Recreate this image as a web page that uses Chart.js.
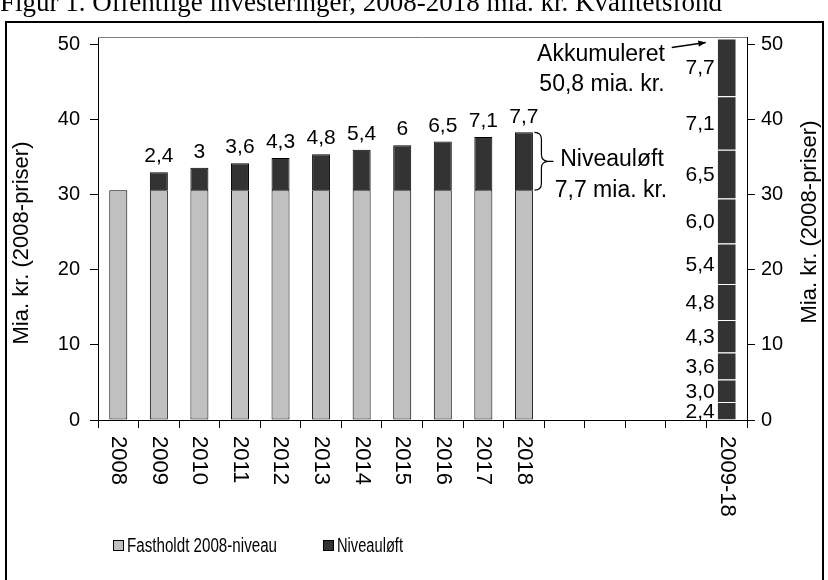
<!DOCTYPE html>
<html><head><meta charset="utf-8">
<script src="https://cdn.jsdelivr.net/npm/chart.js@4/dist/chart.umd.min.js"></script>
<style>html,body{margin:0;padding:0;background:#fff;}canvas{display:block}</style>
</head><body>
<canvas id="c" width="828" height="580"></canvas>
<script>
// ---- data ----
const categories = ['2008','2009','2010','2011','2012','2013','2014','2015','2016','2017','2018','','','','','2009-18'];
const baseLevel = [30.6,30.6,30.6,30.6,30.6,30.6,30.6,30.6,30.6,30.6,30.6,null,null,null,null,null];
const levelIncrease = [null,2.4,3.0,3.6,4.3,4.8,5.4,6.0,6.5,7.1,7.7,null,null,null,null,null];
const increaseLabels = ['','2,4','3','3,6','4,3','4,8','5,4','6','6,5','7,1','7,7'];
const cumulativeParts = [2.4,3.0,3.6,4.3,4.8,5.4,6.0,6.5,7.1,7.7];
const cumulativeLabels = ['2,4','3,0','3,6','4,3','4,8','5,4','6,0','6,5','7,1','7,7'];
const yTicks = [0,10,20,30,40,50];
const seriesNames = ['Fastholdt 2008-niveau','Niveauløft'];
const titleText = 'Figur 1. Offentlige investeringer, 2008-2018 mia. kr. Kvalitetsfond';
const axisTitle = 'Mia. kr. (2008-priser)';
const annotTotal = ['Akkumuleret','50,8 mia. kr.'];
const annotLevel = ['Niveauløft','7,7 mia. kr.'];

const LIGHT = '#C0C0C0', DARK = '#333333';
const FONT = '"Liberation Sans", Arial, sans-serif';
const cumIndex = categories.length - 1;

const datasets = [
  {label: seriesNames[0], data: baseLevel, backgroundColor: LIGHT, borderColor: '#000', borderWidth: 1, borderSkipped: false},
  {label: seriesNames[1], data: levelIncrease, backgroundColor: DARK, borderColor: '#000', borderWidth: 1, borderSkipped: false}
];
cumulativeParts.forEach((v, i) => {
  const d = categories.map((c, j) => j === cumIndex ? v : null);
  datasets.push({label: 'cum' + i, data: d, backgroundColor: DARK, borderColor: '#fff',
    borderWidth: {top: 1, bottom: 0, left: 0, right: 0}, borderSkipped: false});
});

const fixTicks = s => { s.ticks = yTicks.map(v => ({value: v})); };

const decor = {
  id: 'decor',
  beforeDraw(chart) {
    const ctx = chart.ctx;
    ctx.save();
    ctx.fillStyle = '#fff';
    ctx.fillRect(0, 0, chart.width, chart.height);
    ctx.restore();
  },
  afterDraw(chart) {
    const ctx = chart.ctx, ca = chart.chartArea;
    const xs = chart.scales.x;
    ctx.save();
    // title (cut at top)
    ctx.fillStyle = '#000';
    ctx.font = '27px "Liberation Serif", "Times New Roman", serif';
    ctx.textAlign = 'left'; ctx.textBaseline = 'alphabetic';
    ctx.fillText(titleText, 0, 11);
    // outer frame
    ctx.strokeStyle = '#000'; ctx.lineWidth = 2;
    ctx.strokeRect(6, 22, 817, 600);
    // plot area top border
    ctx.strokeStyle = '#808080'; ctx.lineWidth = 1;
    ctx.beginPath(); ctx.moveTo(ca.left, ca.top + 0.5); ctx.lineTo(ca.right, ca.top + 0.5); ctx.stroke();

    // axis titles
    ctx.fillStyle = '#000';
    ctx.font = '22px ' + FONT;
    ctx.textAlign = 'center'; ctx.textBaseline = 'middle';
    ctx.save(); ctx.translate(22, 243); ctx.rotate(-Math.PI / 2); ctx.fillText(axisTitle, 0, 0); ctx.restore();
    ctx.save(); ctx.translate(810, 222); ctx.rotate(-Math.PI / 2); ctx.fillText(axisTitle, 0, 0); ctx.restore();

    // x labels rotated clockwise
    ctx.font = '22px ' + FONT;
    ctx.textAlign = 'left'; ctx.textBaseline = 'middle';
    categories.forEach((c, i) => {
      if (!c) return;
      const x = xs.getPixelForValue(i);
      ctx.save(); ctx.translate(x, ca.bottom + 16); ctx.rotate(Math.PI / 2); ctx.fillText(c, 0, 0); ctx.restore();
    });

    // value labels above yearly bars
    const meta1 = chart.getDatasetMeta(1);
    ctx.font = '21px ' + FONT;
    ctx.textAlign = 'center'; ctx.textBaseline = 'bottom';
    increaseLabels.forEach((t, i) => {
      if (!t) return;
      const el = meta1.data[i];
      ctx.fillText(t, el.x, el.y - 5);
    });

    // cumulative segment labels
    ctx.textAlign = 'right'; ctx.textBaseline = 'middle';
    let barLeft = 0, topY = 0;
    cumulativeParts.forEach((v, i) => {
      const el = chart.getDatasetMeta(2 + i).data[cumIndex];
      barLeft = el.x - el.width / 2;
      topY = el.y;
      ctx.fillText(cumulativeLabels[i], barLeft - 3, (el.y + el.base) / 2 + 1);
    });

    // annotation: accumulated total with arrow
    const tipX = barLeft - 12, tipY = topY + 4;
    const sx = tipX - 34, sy = tipY + 5;
    ctx.strokeStyle = '#000'; ctx.lineWidth = 1.5;
    ctx.beginPath(); ctx.moveTo(sx, sy); ctx.lineTo(tipX, tipY); ctx.stroke();
    const ang = Math.atan2(tipY - sy, tipX - sx);
    ctx.beginPath();
    ctx.moveTo(tipX, tipY);
    ctx.lineTo(tipX - 8 * Math.cos(ang - 0.4), tipY - 8 * Math.sin(ang - 0.4));
    ctx.lineTo(tipX - 8 * Math.cos(ang + 0.4), tipY - 8 * Math.sin(ang + 0.4));
    ctx.closePath(); ctx.fillStyle = '#000'; ctx.fill();
    ctx.font = '23px ' + FONT;
    ctx.textAlign = 'center';
    ctx.fillText(annotTotal[0], 601, 55);
    ctx.fillText(annotTotal[1], 602, 85);

    // brace for level increase on 2018 bar
    const el18 = meta1.data[10];
    const x0 = el18.x + el18.width / 2 + 1.5;
    const yT = el18.y, yB = el18.base, yM = (yT + yB) / 2;
    const r = 7;
    ctx.lineWidth = 1.2;
    ctx.beginPath();
    ctx.moveTo(x0, yT);
    ctx.quadraticCurveTo(x0 + r, yT, x0 + r, yT + r);
    ctx.lineTo(x0 + r, yM - r);
    ctx.quadraticCurveTo(x0 + r, yM, x0 + 2 * r, yM);
    ctx.quadraticCurveTo(x0 + r, yM, x0 + r, yM + r);
    ctx.lineTo(x0 + r, yB - r);
    ctx.quadraticCurveTo(x0 + r, yB, x0, yB);
    ctx.moveTo(x0 + 2 * r, yM); ctx.lineTo(x0 + 2 * r + 5, yM);
    ctx.stroke();
    ctx.fillStyle = '#000';
    ctx.fillText(annotLevel[0], 612, 160);
    ctx.fillText(annotLevel[1], 611, 191);

    // legend
    ctx.font = '20px ' + FONT;
    ctx.textAlign = 'left'; ctx.textBaseline = 'middle';
    const items = [{x: 113, c: LIGHT, w: 150}, {x: 323, c: DARK, w: 66}];
    items.forEach((it, i) => {
      ctx.fillStyle = it.c; ctx.fillRect(it.x + 0.5, 540.5, 10, 10);
      ctx.strokeStyle = '#000'; ctx.lineWidth = 1; ctx.strokeRect(it.x + 0.5, 540.5, 10, 10);
      ctx.fillStyle = '#000';
      ctx.fillText(seriesNames[i], it.x + 14, 546, it.w);
    });
    ctx.restore();
  }
};

new Chart(document.getElementById('c'), {
  type: 'bar',
  data: {labels: categories, datasets},
  options: {
    responsive: false, animation: false,
    layout: {padding: {top: 37, left: 0, right: 0, bottom: 0}},
    plugins: {legend: {display: false}, tooltip: {enabled: false}},
    datasets: {bar: {barPercentage: 0.444, categoryPercentage: 1}},
    scales: {
      x: {
        stacked: true,
        grid: {offset: true, drawOnChartArea: false, drawTicks: true, tickLength: 8, color: '#000', lineWidth: 1},
        border: {display: true, color: '#000', width: 1},
        ticks: {display: false},
        afterFit: s => { s.height = 160; }
      },
      y: {
        position: 'left', stacked: true, min: 0, max: 51,
        afterBuildTicks: fixTicks,
        ticks: {color: '#000', font: {family: FONT, size: 20}, padding: 10},
        grid: {drawOnChartArea: false, tickLength: 8, color: '#000'},
        border: {display: true, color: '#000'},
        afterFit: s => { s.width = 98; }
      },
      y2: {
        position: 'right', min: 0, max: 51,
        afterBuildTicks: fixTicks,
        ticks: {color: '#000', font: {family: FONT, size: 20}, padding: 6},
        grid: {drawOnChartArea: false, tickLength: 8, color: '#000'},
        border: {display: true, color: '#000'},
        afterFit: s => { s.width = 81; }
      }
    }
  },
  plugins: [decor]
});
</script>
</body></html>
